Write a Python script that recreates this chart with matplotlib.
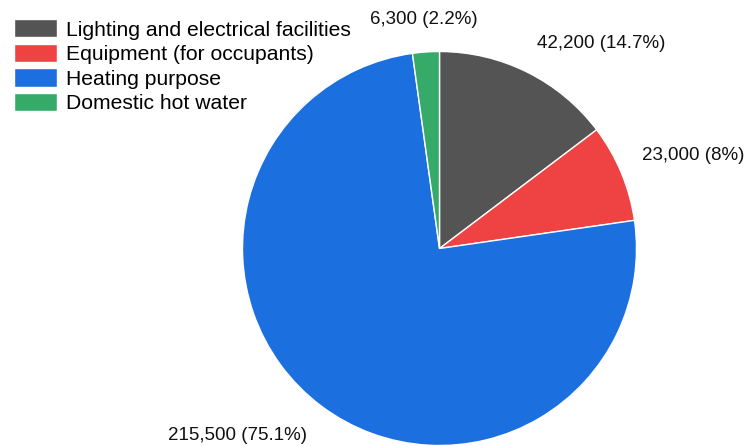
import matplotlib.pyplot as plt

categories = ['Lighting and electrical facilities', 'Equipment (for occupants)',
              'Heating purpose', 'Domestic hot water']
values = [42200, 23000, 215500, 6300]
pct_labels = ['14.7%', '8%', '75.1%', '2.2%']
colors = ['#545454', '#ef4242', '#1b6fdf', '#36ab69']

plt.rcParams['font.family'] = ['Liberation Sans', 'DejaVu Sans']

fig = plt.figure(figsize=(7.45, 4.46), dpi=100)
ax = fig.add_axes([0, 0, 1, 1])
ax.set_xlim(0, 745)
ax.set_ylim(0, 446)
ax.set_aspect('equal')
ax.axis('off')

wedges, _ = ax.pie(values, colors=colors, startangle=90, counterclock=False,
                   center=(439.5, 446 - 248.5), radius=197,
                   wedgeprops=dict(edgecolor='white', linewidth=1))
ax.set_xlim(0, 745)
ax.set_ylim(0, 446)

# label anchors in pixel coords (x, y from top), horizontal alignment
label_pos = [(537, 44, 'left'), (642, 155, 'left'), (307, 435, 'right'), (478, 19, 'right')]
for v, p, (x, y, ha) in zip(values, pct_labels, label_pos):
    ax.text(x, 446 - y, f'{v:,} ({p})', ha=ha, va='center', fontsize=13.5, color='#111111')

ax.legend(wedges, categories, loc='upper left', bbox_to_anchor=(0.019, 0.957),
          frameon=False, fontsize=15.2, handlelength=2.04, handleheight=0.95,
          handletextpad=0.4, labelspacing=0.2, borderpad=0, borderaxespad=0)

fig.savefig('out.png', dpi=100)
